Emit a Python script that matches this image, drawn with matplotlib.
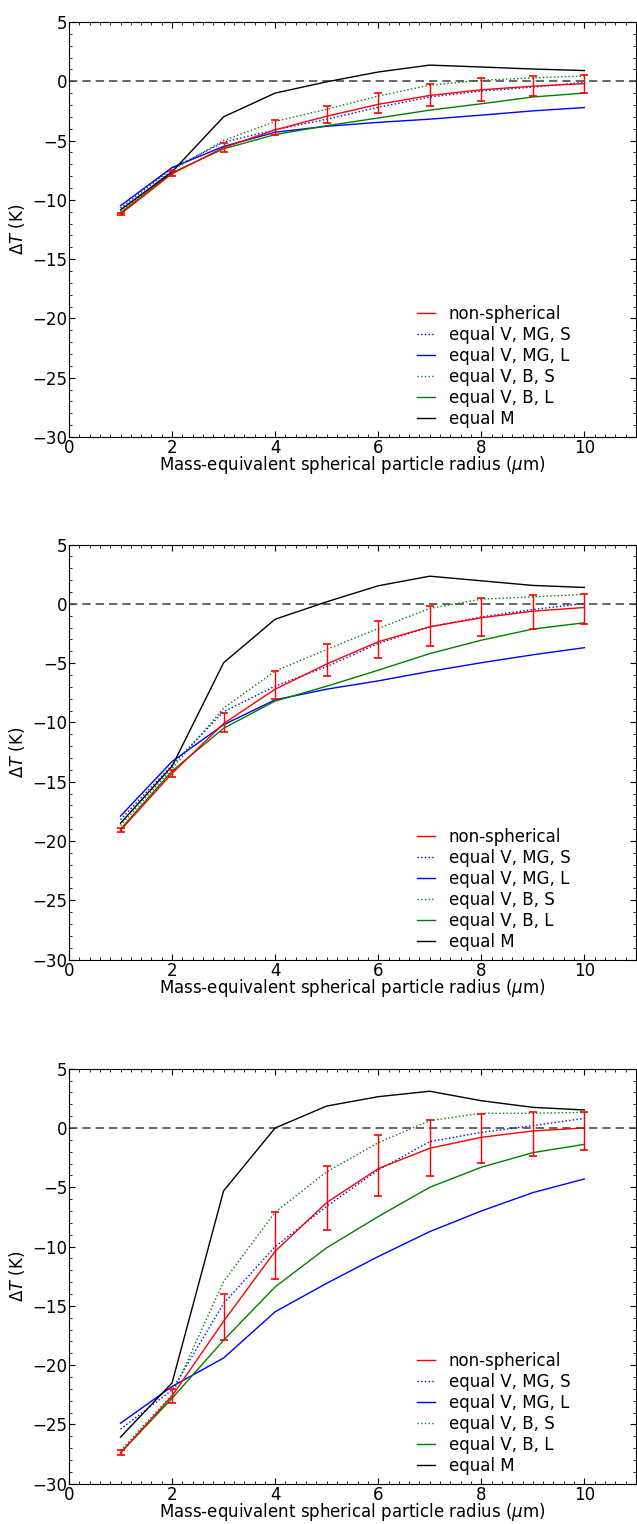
import matplotlib
matplotlib.use("Agg")
import matplotlib.pyplot as plt
from matplotlib.lines import Line2D
from matplotlib.ticker import AutoMinorLocator

radius = [1, 2, 3, 4, 5, 6, 7, 8, 9, 10]

# panel 1
p1_nonsph = [-11.2, -7.8, -5.6, -4.1, -2.95, -1.95, -1.2, -0.72, -0.42, -0.2]
p1_err_up = [0.1, 0.2, 0.38, 0.85, 0.9, 0.97, 1.0, 1.0, 0.9, 0.7]
p1_err_dn = [0.1, 0.2, 0.38, 0.45, 0.6, 0.77, 0.88, 0.95, 0.86, 0.8]
p1_mg_s = [-10.7, -7.36, -5.14, -4.1, -3.2, -2.2, -1.33, -0.83, -0.5, -0.1]
p1_mg_l = [-10.5, -7.28, -5.5, -4.3, -3.8, -3.47, -3.2, -2.86, -2.5, -2.22]
p1_b_s = [-11.0, -7.5, -5.0, -3.4, -2.36, -1.25, -0.33, 0.08, 0.28, 0.44]
p1_b_l = [-11.1, -7.72, -5.7, -4.5, -3.75, -3.1, -2.44, -1.9, -1.33, -1.0]
p1_eqm = [-10.85, -7.64, -3.0, -1.0, -0.05, 0.78, 1.36, 1.2, 1.03, 0.9]

# panel 2
p2_nonsph = [-19.1, -14.3, -10.1, -7.2, -5.08, -3.2, -1.94, -1.18, -0.62, -0.31]
p2_err_up = [0.15, 0.3, 0.85, 1.55, 1.7, 1.75, 1.72, 1.66, 1.38, 1.15]
p2_err_dn = [0.15, 0.3, 0.7, 0.85, 1.05, 1.4, 1.63, 1.54, 1.5, 1.38]
p2_mg_s = [-18.2, -13.6, -9.1, -6.94, -5.3, -3.34, -1.94, -1.1, -0.48, 0.03]
p2_mg_l = [-17.9, -13.3, -10.2, -8.1, -7.2, -6.5, -5.7, -4.97, -4.3, -3.7]
p2_b_s = [-18.7, -13.9, -8.8, -5.67, -3.85, -2.08, -0.39, 0.39, 0.59, 0.79]
p2_b_l = [-19.0, -14.1, -10.5, -8.2, -6.95, -5.6, -4.2, -3.07, -2.13, -1.6]
p2_eqm = [-18.5, -13.7, -4.97, -1.3, 0.17, 1.52, 2.33, 1.94, 1.55, 1.38]

# panel 3
p3_nonsph = [-27.4, -22.6, -16.3, -10.4, -6.29, -3.43, -1.71, -0.79, -0.25, 0.0]
p3_err_up = [0.2, 0.6, 2.3, 3.3, 3.1, 2.8, 2.4, 2.0, 1.63, 1.32]
p3_err_dn = [0.2, 0.6, 1.6, 2.3, 2.3, 2.3, 2.33, 2.2, 2.1, 1.88]
p3_mg_s = [-25.4, -22.1, -14.8, -10.0, -6.6, -3.54, -1.15, -0.37, 0.2, 0.81]
p3_mg_l = [-24.9, -21.8, -19.4, -15.5, -13.1, -10.84, -8.74, -7.0, -5.45, -4.3]
p3_b_s = [-27.2, -22.5, -12.95, -7.1, -3.7, -1.24, 0.62, 1.24, 1.24, 1.32]
p3_b_l = [-27.4, -22.8, -17.9, -13.4, -10.1, -7.47, -5.0, -3.31, -2.08, -1.38]
p3_eqm = [-26.07, -21.5, -5.3, 0.0, 1.85, 2.64, 3.1, 2.3, 1.74, 1.52]

panels = [
    (p1_nonsph, p1_err_dn, p1_err_up, p1_mg_s, p1_mg_l, p1_b_s, p1_b_l, p1_eqm),
    (p2_nonsph, p2_err_dn, p2_err_up, p2_mg_s, p2_mg_l, p2_b_s, p2_b_l, p2_eqm),
    (p3_nonsph, p3_err_dn, p3_err_up, p3_mg_s, p3_mg_l, p3_b_s, p3_b_l, p3_eqm),
]

plt.rcParams["font.family"] = "DejaVu Sans"
plt.rcParams["font.size"] = 12
plt.rcParams["xtick.direction"] = "in"
plt.rcParams["ytick.direction"] = "in"
plt.rcParams["xtick.top"] = True
plt.rcParams["ytick.right"] = True
plt.rcParams["xtick.major.size"] = 4
plt.rcParams["ytick.major.size"] = 4
plt.rcParams["xtick.minor.size"] = 2
plt.rcParams["ytick.minor.size"] = 2
plt.rcParams["xtick.major.pad"] = 1.5
plt.rcParams["ytick.major.pad"] = 1

fig = plt.figure(figsize=(6.37, 15.24), dpi=100)
bottoms = [0.7133, 0.3704, 0.02645]

for bot, (ns, edn, eup, mgs, mgl, bs, bl, eqm) in zip(bottoms, panels):
    ax = fig.add_axes([0.1083, bot, 0.890, 0.2723])
    ax.axhline(0, color="0.3", linestyle="--", linewidth=1.2, dashes=(5, 3))
    ax.errorbar(radius, ns, yerr=[edn, eup], color="red", linewidth=1,
                capsize=3, elinewidth=1, capthick=1.2, zorder=3)
    ax.plot(radius, mgs, color="blue", linestyle=":", linewidth=1)
    ax.plot(radius, mgl, color="blue", linewidth=1)
    ax.plot(radius, bs, color="green", linestyle=":", linewidth=1)
    ax.plot(radius, bl, color="green", linewidth=1)
    ax.plot(radius, eqm, color="black", linewidth=1)
    ax.set_xlim(0, 11)
    ax.set_ylim(-30, 5)
    ax.set_xticks([0, 2, 4, 6, 8, 10])
    ax.set_yticks([-30, -25, -20, -15, -10, -5, 0, 5])
    ax.xaxis.set_minor_locator(AutoMinorLocator(10))
    ax.yaxis.set_minor_locator(AutoMinorLocator(5))
    ax.set_xlabel(r"Mass-equivalent spherical particle radius ($\mu$m)", labelpad=-2)
    ax.set_ylabel(r"$\Delta T$ (K)", labelpad=4)

    handles = [
        Line2D([], [], color="red", linewidth=1),
        Line2D([], [], color="blue", linestyle=":", linewidth=1),
        Line2D([], [], color="blue", linewidth=1),
        Line2D([], [], color="green", linestyle=":", linewidth=1),
        Line2D([], [], color="green", linewidth=1),
        Line2D([], [], color="black", linewidth=1),
    ]
    labels = ["non-spherical", "equal V, MG, S", "equal V, MG, L",
              "equal V, B, S", "equal V, B, L", "equal M"]
    ax.legend(handles, labels, loc="lower right", frameon=False, fontsize=12,
              handlelength=1.1, handletextpad=0.8, labelspacing=0.18,
              borderaxespad=0, bbox_to_anchor=(0.896, 0.005))

fig.savefig("out.png", dpi=100)
